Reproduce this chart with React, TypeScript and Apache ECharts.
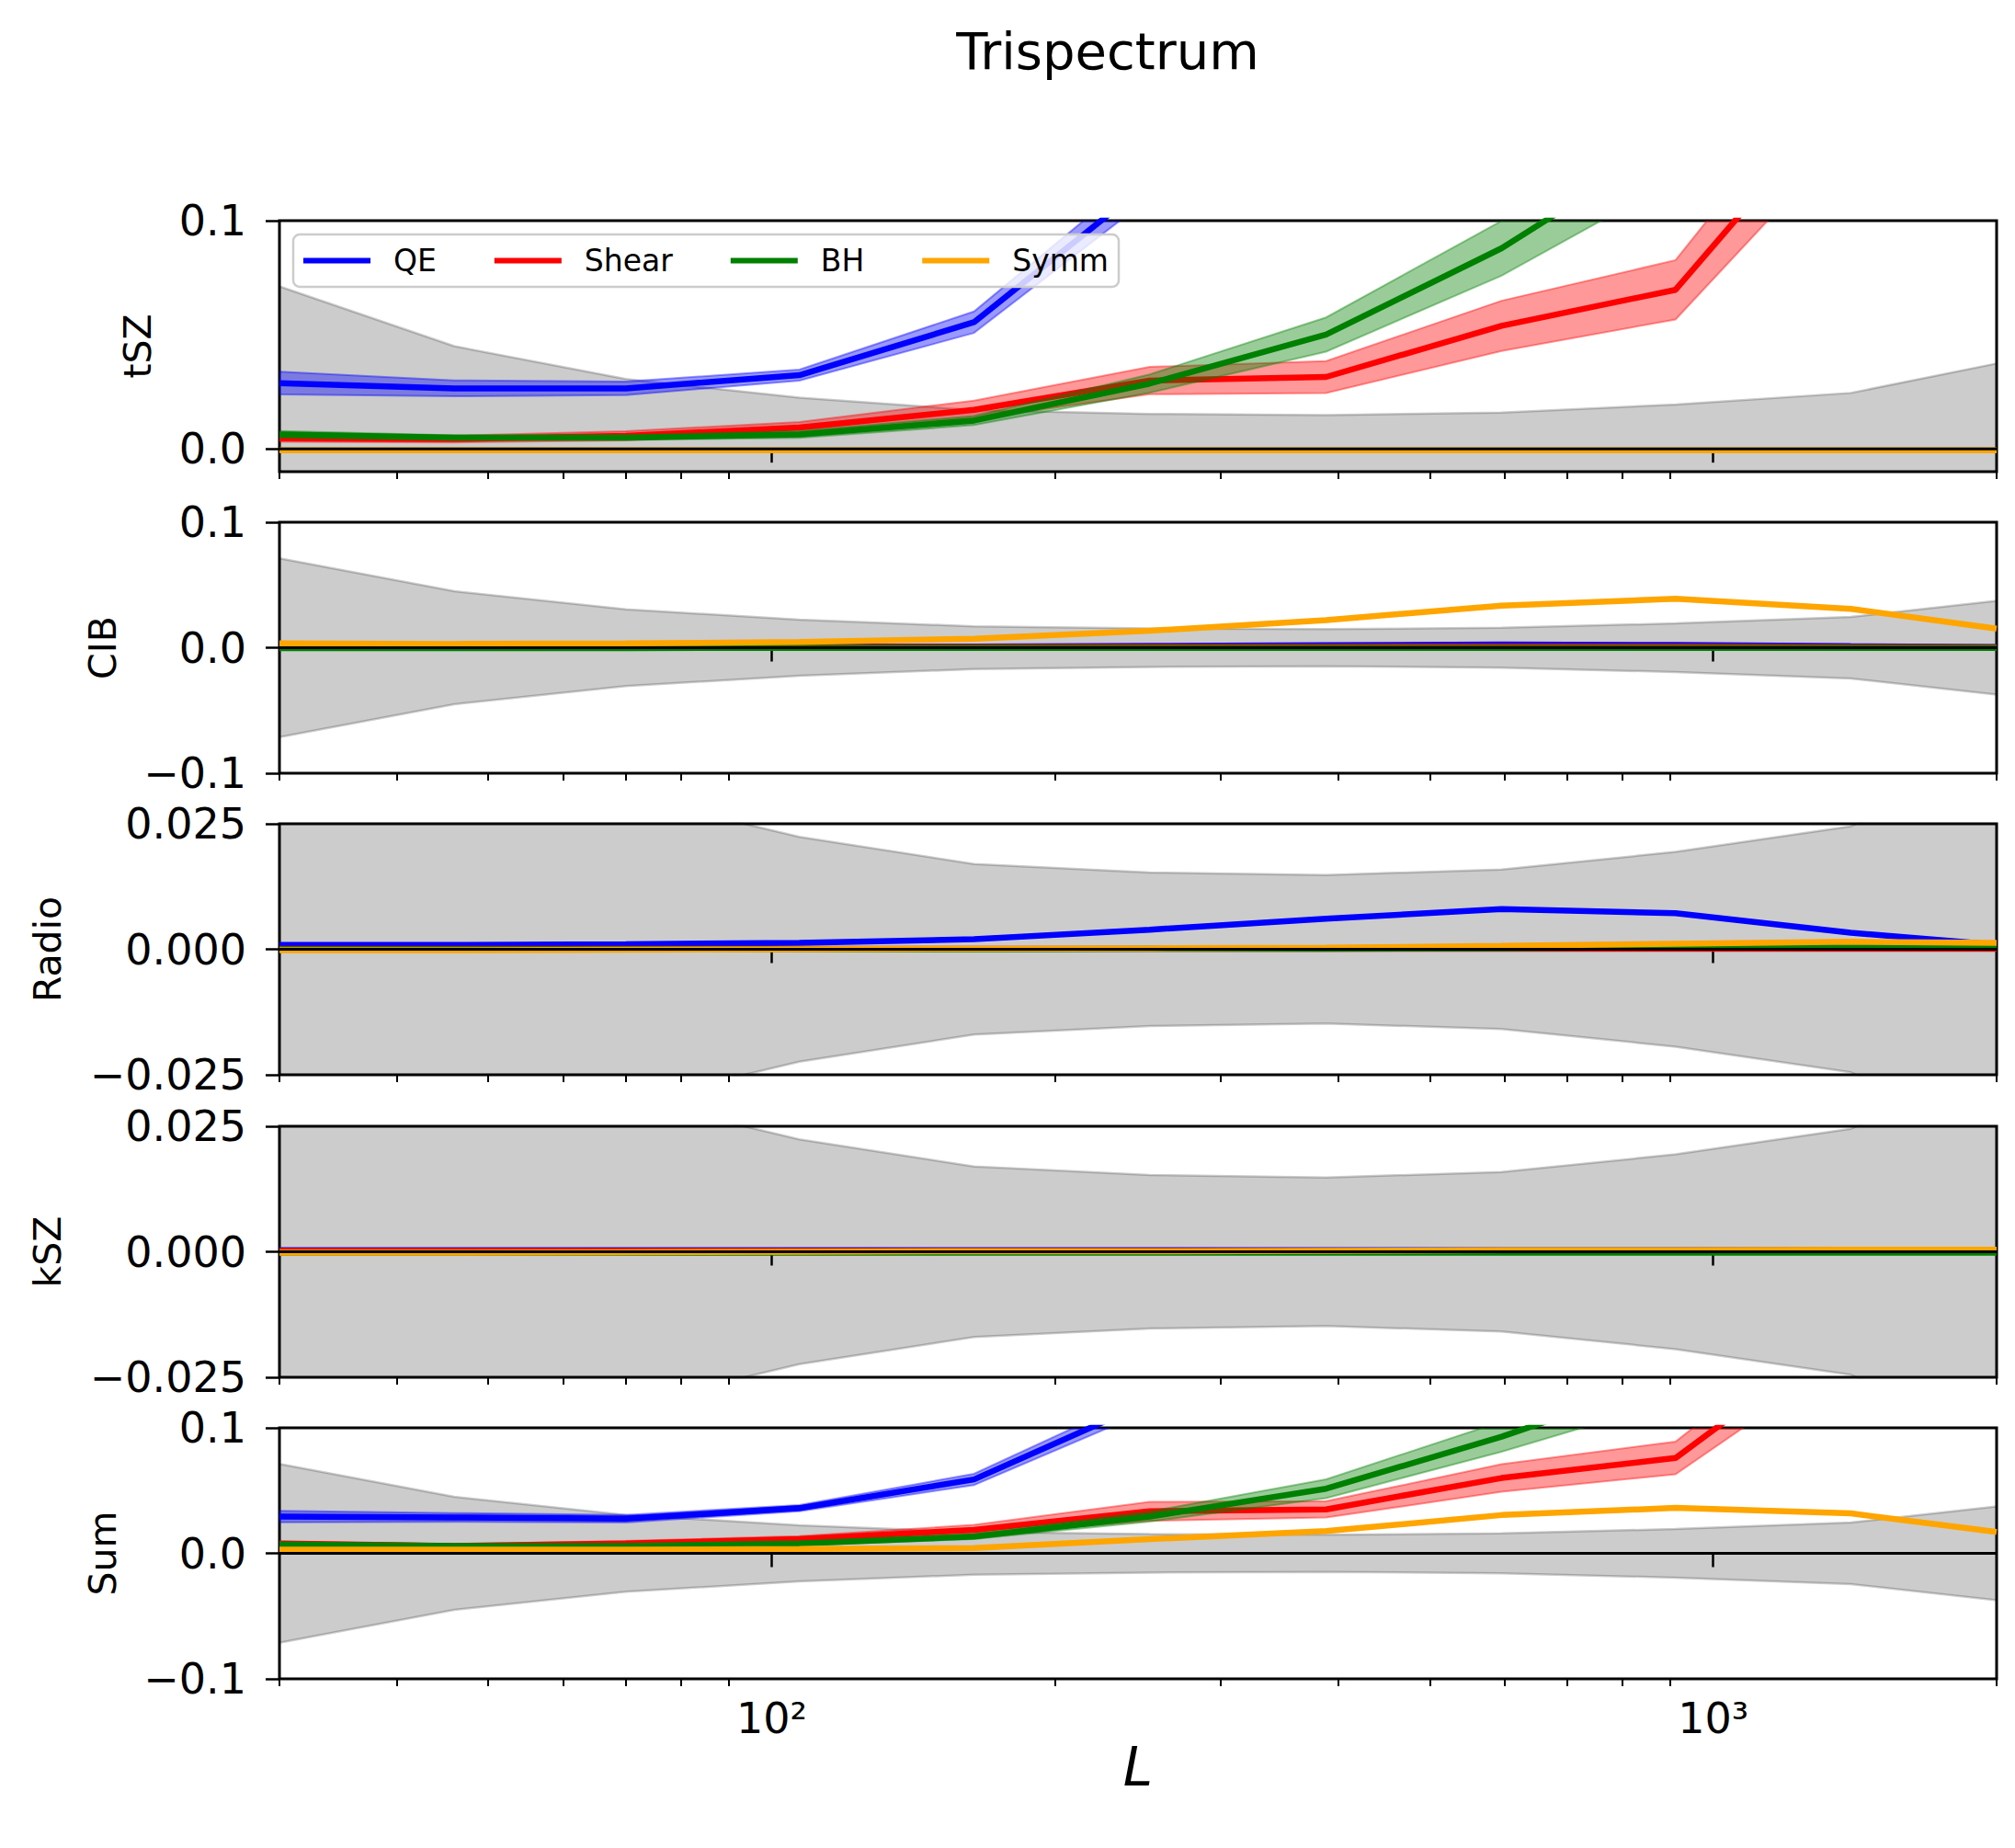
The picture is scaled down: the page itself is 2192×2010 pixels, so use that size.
import { useEffect, useRef } from 'react';
import * as echarts from 'echarts';

// multipole bin centres
const ells = [30, 46, 70, 107, 164, 252, 388, 596, 912, 1400, 2000];
const xMin = 30;
const xMax = 2000;
const xMajor = [100, 1000];
const xMajorLabels = ['10²', '10³'];
const xMinor = [30, 40, 50, 60, 70, 80, 90, 200, 300, 400, 500, 600, 700, 800, 900, 2000];

// 1-sigma noise (grey band, +/-)
const noise = [0.0712, 0.045, 0.0306, 0.0224, 0.017, 0.0153, 0.0148, 0.0159, 0.0194, 0.0245, 0.0374];

// tSZ
const tszQE = [0.0288, 0.0265, 0.0265, 0.0323, 0.0555, 0.117, 0.25, 0.45, 0.7, 1.0, 1.3];
const tszQEErr = [0.005, 0.0035, 0.003, 0.0024, 0.0047, 0.007, 0.01, 0.015, 0.02, 0.03, 0.04];
const tszShear = [0.0046, 0.0043, 0.0057, 0.0093, 0.0171, 0.0299, 0.0315, 0.0539, 0.0697, 0.159, 0.25];
const tszShearErr = [0.0015, 0.0015, 0.002, 0.0025, 0.004, 0.006, 0.007, 0.011, 0.013, 0.02, 0.03];
const tszBH = [0.0063, 0.0049, 0.0049, 0.0063, 0.0124, 0.0286, 0.0501, 0.0879, 0.136, 0.2, 0.28];
const tszBHErr = [0.0015, 0.001, 0.001, 0.0015, 0.002, 0.004, 0.0075, 0.012, 0.018, 0.03, 0.04];
const tszSymm = [-0.0006, -0.0006, -0.0006, -0.0006, -0.0006, -0.0006, -0.0006, -0.0006, -0.0006, -0.0006, -0.0006];

// CIB
const cibQE = [0.0004, 0.0004, 0.0005, 0.0007, 0.001, 0.0015, 0.002, 0.0025, 0.0022, 0.0012, 0.0005];
const cibShear = [0.0002, 0.0002, 0.0003, 0.0004, 0.0005, 0.0007, 0.0008, 0.001, 0.0009, 0.0006, 0.0003];
const cibBH = [-0.0003, -0.0003, -0.0003, -0.0002, -0.0002, -0.0002, -0.0002, -0.0002, -0.0002, -0.0002, -0.0002];
const cibSymm = [0.0034, 0.003, 0.0034, 0.0046, 0.0071, 0.0135, 0.022, 0.0335, 0.039, 0.031, 0.0152];

// Radio
const radioQE = [0.00086, 0.00086, 0.001, 0.0013, 0.002, 0.0039, 0.0061, 0.008, 0.0072, 0.0033, 0.0009];
const radioShear = [0.0001, 0.0001, 0.0001, 0.0001, 0.0001, 0.0001, 0.0001, 0.0001, 0.0001, 0.0001, 0.0001];
const radioBH = [0, 0, 0, 0, 0, 0.0001, 0.0001, 0.0002, 0.0004, 0.0007, 0.0004];
const radioSymm = [-0.0002, -0.0002, -0.0001, 0, 0.0001, 0.0002, 0.0003, 0.0007, 0.0011, 0.0015, 0.0013];

// kSZ
const kszQE = [0.0003, 0.0003, 0.0003, 0.0003, 0.0003, 0.0003, 0.0003, 0.0003, 0.0003, 0.0003, 0.0003];
const kszShear = [0.0002, 0.0002, 0.0002, 0.0002, 0.0002, 0.0002, 0.0002, 0.0002, 0.0002, 0.0002, 0.0002];
const kszBH = [-0.0002, -0.0002, -0.0002, -0.0002, -0.0002, -0.0002, -0.0002, -0.0002, -0.0002, -0.0002, -0.0002];
const kszSymm = [-0.0002, -0.0002, -0.0001, 0, 0.0001, 0.0001, 0.0002, 0.0003, 0.0003, 0.0004, 0.0004];

// Sum
const sumQE = [0.0293, 0.0286, 0.0276, 0.036, 0.0589, 0.121, 0.25, 0.45, 0.7, 1.0, 1.3];
const sumQEErr = [0.0045, 0.0035, 0.003, 0.0025, 0.0045, 0.007, 0.01, 0.015, 0.02, 0.03, 0.04];
const sumShear = [0.0079, 0.0059, 0.0079, 0.0113, 0.0187, 0.0335, 0.035, 0.06, 0.076, 0.179, 0.27];
const sumShearErr = [0.0015, 0.0015, 0.002, 0.0025, 0.004, 0.0075, 0.0065, 0.011, 0.013, 0.02, 0.03];
const sumBH = [0.0071, 0.0059, 0.0059, 0.0079, 0.0133, 0.0293, 0.0515, 0.093, 0.14, 0.2, 0.28];
const sumBHErr = [0.0015, 0.001, 0.001, 0.0015, 0.002, 0.004, 0.0075, 0.012, 0.018, 0.03, 0.04];
const sumSymm = [0.003, 0.003, 0.003, 0.0034, 0.0042, 0.0113, 0.0177, 0.0305, 0.0362, 0.0318, 0.017];

const panelNames = ['tSZ', 'CIB', 'Radio', 'kSZ', 'Sum'];
const yMins = [-0.01, -0.1, -0.025, -0.025, -0.1];
const yMaxs = [0.1, 0.1, 0.025, 0.025, 0.1];
const yTicks = [
  [0, 0.1],
  [-0.1, 0, 0.1],
  [-0.025, 0, 0.025],
  [-0.025, 0, 0.025],
  [-0.1, 0, 0.1],
];
const yDecimals = [1, 1, 3, 3, 1];

type Key = 'QE' | 'Shear' | 'BH' | 'Symm';
const keys: Key[] = ['QE', 'Shear', 'BH', 'Symm'];

const panelValues: Record<Key, number[]>[] = [
  { QE: tszQE, Shear: tszShear, BH: tszBH, Symm: tszSymm },
  { QE: cibQE, Shear: cibShear, BH: cibBH, Symm: cibSymm },
  { QE: radioQE, Shear: radioShear, BH: radioBH, Symm: radioSymm },
  { QE: kszQE, Shear: kszShear, BH: kszBH, Symm: kszSymm },
  { QE: sumQE, Shear: sumShear, BH: sumBH, Symm: sumSymm },
];
const panelErrors: Partial<Record<Key, number[]>>[] = [
  { QE: tszQEErr, Shear: tszShearErr, BH: tszBHErr },
  {},
  {},
  {},
  { QE: sumQEErr, Shear: sumShearErr, BH: sumBHErr },
];

const COLORS: Record<Key, string> = {
  QE: '#0000ff',
  Shear: '#ff0000',
  BH: '#008000',
  Symm: '#ffa500',
};
const BANDS: Record<Key, string> = {
  QE: 'rgba(0,0,255,0.4)',
  Shear: 'rgba(255,0,0,0.4)',
  BH: 'rgba(0,128,0,0.4)',
  Symm: 'rgba(255,165,0,0.4)',
};

const FONT = 'DejaVu Sans';
const GRID_LEFT = 304;
const GRID_WIDTH = 1868;
const GRID_TOPS = [240, 568, 896, 1225, 1553];
const GRID_HEIGHT = 273;
const NAME_GAPS = [134, 172, 232, 232, 172];

function pairs(ys: number[]) {
  return ells.map((l, i) => [l, ys[i]]);
}

function fmtY(v: number, d: number) {
  const s = Math.abs(v).toFixed(d);
  return v < -1e-12 ? '\u2212' + s : s;
}

// fill_between-like polygon drawn through the axis scales
function bandRenderer(color: string) {
  return (params: any, api: any) => {
    if (params.dataIndex !== 0) return null;
    const n = params.dataInsideLength ?? ells.length;
    const upper: number[][] = [];
    const lower: number[][] = [];
    for (let i = 0; i < n; i++) {
      upper.push(api.coord([api.value(0, i), api.value(2, i)]));
      lower.push(api.coord([api.value(0, i), api.value(1, i)]));
    }
    return {
      type: 'polygon',
      shape: { points: upper.concat(lower.reverse()) },
      style: { fill: color, stroke: color, lineWidth: 2 },
    };
  };
}

function buildSeries() {
  const out: any[] = [];
  for (let p = 0; p < 5; p++) {
    const axes = { xAxisIndex: p * 2, yAxisIndex: p, silent: true };
    // grey noise band, both halves filled to zero
    for (const sign of [1, -1]) {
      out.push({
        ...axes,
        type: 'line',
        name: 'noise',
        showSymbol: false,
        symbol: 'none',
        data: pairs(noise.map(n => sign * n)),
        lineStyle: { color: 'rgba(0,0,0,0.2)', width: 2.5 },
        areaStyle: { color: 'rgba(0,0,0,0.2)', opacity: 1 },
        z: 1,
      });
    }
    keys.forEach((k, ki) => {
      const vals = panelValues[p][k];
      const errs = panelErrors[p][k];
      if (errs) {
        out.push({
          ...axes,
          type: 'custom',
          name: `${k} band`,
          clip: true,
          data: ells.map((l, i) => [l, vals[i] - errs[i], vals[i] + errs[i]]),
          encode: { x: 0, y: [1, 2] },
          renderItem: bandRenderer(BANDS[k]),
          z: 2 + ki,
        });
      }
      out.push({
        ...axes,
        type: 'line',
        name: k,
        color: COLORS[k],
        showSymbol: false,
        symbol: 'none',
        data: pairs(vals),
        lineStyle: { color: COLORS[k], width: 6.5 },
        itemStyle: { color: COLORS[k] },
        z: 2 + ki,
      });
    });
    out.push({
      ...axes,
      type: 'line',
      name: 'zero',
      showSymbol: false,
      symbol: 'none',
      data: [[xMin, 0], [xMax, 0]],
      lineStyle: { color: '#000', width: 3 },
      z: 8,
    });
  }
  return out;
}

function buildOption(): any {
  const grid = GRID_TOPS.map(top => ({
    left: GRID_LEFT,
    top,
    width: GRID_WIDTH,
    height: GRID_HEIGHT,
    show: true,
    borderColor: '#000',
    borderWidth: 3,
    backgroundColor: 'transparent',
  }));

  const xAxis: any[] = [];
  GRID_TOPS.forEach((_, p) => {
    const last = p === 4;
    xAxis.push({
      type: 'log',
      logBase: 10,
      gridIndex: p,
      min: xMin,
      max: xMax,
      position: 'bottom',
      axisLine: { show: false },
      splitLine: { show: false },
      axisTick: { show: true, customValues: xMajor, length: 15, lineStyle: { color: '#000', width: 2.5 } },
      axisLabel: {
        show: last,
        customValues: xMajor,
        margin: 20,
        fontSize: 46,
        color: '#000',
        fontFamily: FONT,
        formatter: (v: number) => {
          const i = xMajor.findIndex(t => Math.abs(t - v) / t < 1e-6);
          return i >= 0 ? xMajorLabels[i] : '';
        },
      },
      name: last ? 'L' : '',
      nameLocation: 'middle',
      nameGap: 32,
      nameTextStyle: { fontSize: 58, fontStyle: 'italic', color: '#000', fontFamily: FONT },
    });
    xAxis.push({
      type: 'log',
      logBase: 10,
      gridIndex: p,
      min: xMin,
      max: xMax,
      position: 'bottom',
      axisLine: { show: false },
      splitLine: { show: false },
      axisTick: { show: true, customValues: xMinor, length: 8, lineStyle: { color: '#000', width: 2 } },
      axisLabel: { show: false },
    });
  });

  const yAxis = GRID_TOPS.map((_, p) => ({
    type: 'value',
    gridIndex: p,
    min: yMins[p],
    max: yMaxs[p],
    axisLine: { show: false },
    splitLine: { show: false },
    axisTick: { show: true, customValues: yTicks[p], length: 15, lineStyle: { color: '#000', width: 2.5 } },
    axisLabel: {
      customValues: yTicks[p],
      margin: 36,
      fontSize: 46,
      color: '#000',
      fontFamily: FONT,
      formatter: (v: number) => fmtY(v, yDecimals[p]),
    },
    name: panelNames[p],
    nameLocation: 'middle',
    nameGap: NAME_GAPS[p],
    nameMoveOverlap: false,
    nameTextStyle: { fontSize: 41, color: '#000', fontFamily: FONT },
  }));

  return {
    animation: false,
    backgroundColor: '#fff',
    textStyle: { fontFamily: FONT },
    title: {
      text: 'Trispectrum',
      left: 1200,
      textAlign: 'center',
      top: 22,
      textStyle: { fontSize: 56, fontWeight: 'normal', color: '#000', fontFamily: FONT },
    },
    legend: {
      data: keys,
      left: 319,
      top: 255,
      orient: 'horizontal',
      icon: 'rect',
      itemWidth: 73,
      itemHeight: 6,
      itemGap: 63,
      padding: [12, 11, 12, 11],
      backgroundColor: 'rgba(255,255,255,0.8)',
      borderColor: '#cccccc',
      borderWidth: 2.5,
      borderRadius: 7,
      selectedMode: false,
      textStyle: { fontSize: 33, color: '#000', fontFamily: FONT, padding: [0, 0, 0, 20] },
      z: 20,
    },
    grid,
    xAxis,
    yAxis,
    series: buildSeries(),
  };
}

export default function App() {
  const ref = useRef<HTMLDivElement>(null);

  useEffect(() => {
    document.body.style.margin = '0';
    if (!ref.current) return;
    const chart = echarts.init(ref.current, undefined, { renderer: 'svg' });
    chart.setOption(buildOption());
    return () => chart.dispose();
  }, []);

  return <div ref={ref} style={{ width: 2192, height: 2010 }} />;
}
